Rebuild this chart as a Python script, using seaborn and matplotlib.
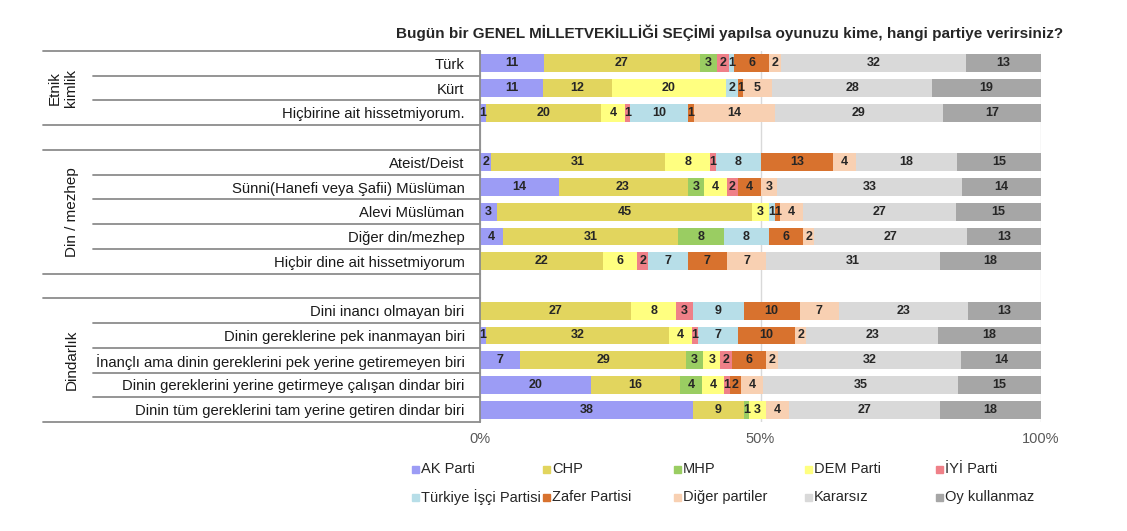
import numpy as np
import pandas as pd
import matplotlib
matplotlib.use("Agg")
import matplotlib.pyplot as plt
import seaborn as sns
from matplotlib.transforms import blended_transform_factory
from matplotlib.patches import Rectangle

# ---------------------------------------------------------------- data
title = "Bugün bir GENEL MİLLETVEKİLLİĞİ SEÇİMİ yapılsa oyunuzu kime, hangi partiye verirsiniz?"

parties = ["AK Parti", "CHP", "MHP", "DEM Parti", "İYİ Parti",
           "Türkiye İşçi Partisi", "Zafer Partisi", "Diğer partiler", "Kararsız", "Oy kullanmaz"]
colors = ["#9c9cf5", "#e2d55e", "#9acd62", "#ffff80", "#ef8088",
          "#b7dee8", "#d8722e", "#f8d0b2", "#d9d9d9", "#a6a6a6"]

rows = ["Türk", "Kürt", "Hiçbirine ait hissetmiyorum.",
        "Ateist/Deist", "Sünni(Hanefi veya Şafii) Müslüman", "Alevi Müslüman",
        "Diğer din/mezhep", "Hiçbir dine ait hissetmiyorum",
        "Dini inancı olmayan biri", "Dinin gereklerine pek inanmayan biri",
        "İnançlı ama dinin gereklerini pek yerine getiremeyen biri",
        "Dinin gereklerini yerine getirmeye çalışan dindar biri",
        "Dinin tüm gereklerini tam yerine getiren dindar biri"]

groups = ["Etnik\nkimlik", "Din / mezhep", "Dindarlık"]

ak       = [11, 11,  1,  2, 14,  3,  4,  0,  0,  1,  7, 20, 38]
chp      = [27, 12, 20, 31, 23, 45, 31, 22, 27, 32, 29, 16,  9]
mhp      = [ 3,  0,  0,  0,  3,  0,  8,  0,  0,  0,  3,  4,  1]
dem      = [ 0, 20,  4,  8,  4,  3,  0,  6,  8,  4,  3,  4,  3]
iyi      = [ 2,  0,  1,  1,  2,  0,  0,  2,  3,  1,  2,  1,  0]
tip      = [ 1,  2, 10,  8,  0,  1,  8,  7,  9,  7,  0,  0,  0]
zafer    = [ 6,  1,  1, 13,  4,  1,  6,  7, 10, 10,  6,  2,  0]
diger    = [ 2,  5, 14,  4,  3,  4,  2,  7,  7,  2,  2,  4,  4]
kararsiz = [32, 28, 29, 18, 33, 27, 27, 31, 23, 23, 32, 35, 27]
oy       = [13, 19, 17, 15, 14, 15, 13, 18, 13, 18, 14, 15, 18]

# ---------------------------------------------------------------- frame
df = pd.DataFrame({"Satir": rows})
for p, vals in zip(parties, [ak, chp, mhp, dem, iyi, tip, zafer, diger, kararsiz, oy]):
    df[p] = vals

shares = df[parties].div(df[parties].sum(axis=1), axis=0) * 100
cum = shares.cumsum(axis=1)

# blank slots between the groups
order = rows[:3] + [" "] + rows[3:8] + ["  "] + rows[8:]

# ---------------------------------------------------------------- plot
sns.set_theme(style="white")
plt.rcParams["font.family"] = ["Liberation Sans", "DejaVu Sans"]

W, H = 1127, 531
fig = plt.figure(figsize=(W / 100, H / 100), dpi=100)
ax = fig.add_axes([480 / W, 1 - 422 / H, 561 / W, 371 / H])

# stacked bars: draw cumulative totals from the last series to the first
for p, c in reversed(list(zip(parties, colors))):
    sns.barplot(x=cum[p], y=df["Satir"], order=order, orient="h", color=c,
                saturation=1, width=0.72, linewidth=0, errorbar=None, ax=ax)

for i, row in enumerate(rows):
    y = order.index(row)
    for p in parties:
        v = df.loc[i, p]
        if v > 0:
            ax.text(cum.loc[i, p] - shares.loc[i, p] / 2, y, str(v), ha="center", va="center",
                    fontsize=9, fontweight="bold", color="#262626")

ax.set_xlim(0, 100)
ax.set_ylim(14.5, -0.5)
ax.set_xticks([0, 50, 100])
ax.set_xticklabels(["0%", "50%", "100%"])
ax.set_xlabel("")
ax.set_ylabel("")
ax.xaxis.grid(True, color="#d9d9d9", lw=1)
ax.set_axisbelow(True)
for s in ["top", "right", "bottom"]:
    ax.spines[s].set_visible(False)
ax.spines["left"].set_color("#8c8c8c")
ax.spines["left"].set_linewidth(1.3)
ax.tick_params(axis="y", length=0, pad=11, labelsize=10.7, labelcolor="#1a1a1a")
ax.tick_params(axis="x", length=0, pad=7, labelsize=10.5, labelcolor="#595959")

# table lines on the left
trans = blended_transform_factory(fig.transFigure, ax.transData)
for y in [-0.5, 2.5, 3.5, 8.5, 9.5, 14.5]:
    ax.plot([43 / W, 480 / W], [y, y], transform=trans, color="#8c8c8c", lw=1.3, clip_on=False)
for y in [0.5, 1.5, 4.5, 5.5, 6.5, 7.5, 10.5, 11.5, 12.5, 13.5]:
    ax.plot([93 / W, 480 / W], [y, y], transform=trans, color="#8c8c8c", lw=1.3, clip_on=False)

for g, gx, gy in zip(groups, [63, 72, 72], [1, 6, 12]):
    ax.text(gx / W, gy, g, transform=trans, rotation=90, ha="center", va="center",
            fontsize=11, color="#1a1a1a", linespacing=1.15)

fig.text(1063 / W, 1 - 33 / H, title, ha="right", va="center", fontsize=11,
         fontweight="bold", color="#262626")

# legend, equal-width columns like the original
for k, (p, c) in enumerate(zip(parties, colors)):
    r, col = divmod(k, 5)
    x = 412 + 131 * col
    y = 469 + 28 * r
    fig.patches.append(Rectangle((x / W, 1 - (y + 3.5) / H), 7 / W, 7 / H,
                                 transform=fig.transFigure, color=c))
    fig.text((x + 9) / W, 1 - y / H, p, ha="left", va="center", fontsize=10.5, color="#262626")

fig.savefig("out.png", dpi=100)
